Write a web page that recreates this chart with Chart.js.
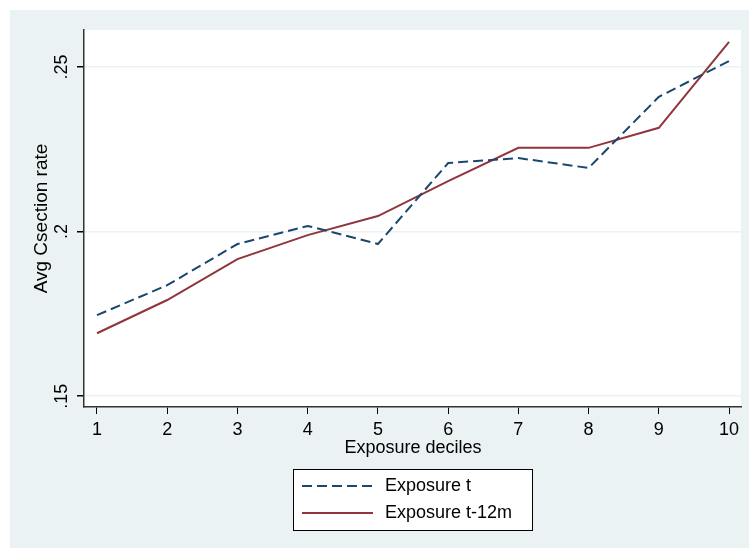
<!DOCTYPE html>
<html>
<head>
    <script src="https://cdn.jsdelivr.net/npm/chart.js@4.4.1/dist/chart.umd.min.js"></script>
    <style>
        body { margin: 0; background: white; }
        #wrap { width: 749px; height: 548px; }
    </style>
</head>
<body>
    <div id="wrap"><canvas id="csectionChart"></canvas></div>

    <script>
        // data
        var deciles = [1, 2, 3, 4, 5, 6, 7, 8, 9, 10];
        var exposureT = [0.1746, 0.1837, 0.1962, 0.2017, 0.1962, 0.2208, 0.2223, 0.2193, 0.2409, 0.2518];
        var exposureT12m = [0.1691, 0.1792, 0.1916, 0.1989, 0.2047, 0.2153, 0.2254, 0.2254, 0.2315, 0.2576];
        var yTicks = [0.15, 0.2, 0.25];
        var yTickLabels = ['.15', '.2', '.25'];

        var FONT = 'Arial, "Liberation Sans", sans-serif';
        var BG = '#eaf2f3';

        function points(vals) {
            return deciles.map(function (d, i) { return { x: d, y: vals[i] }; });
        }

        // background, titles, rotated y labels and the boxed legend
        var stataLook = {
            id: 'stataLook',
            beforeDraw: function (chart) {
                var ctx = chart.ctx;
                ctx.save();
                ctx.fillStyle = BG;
                ctx.fillRect(10, 10, chart.width - 10, chart.height - 10);
                var a = chart.chartArea;
                ctx.fillStyle = 'white';
                ctx.fillRect(a.left, a.top, a.right - a.left, a.bottom - a.top);
                ctx.restore();
            },
            afterDraw: function (chart) {
                var ctx = chart.ctx;
                var a = chart.chartArea;
                var ys = chart.scales.y;
                ctx.save();
                ctx.fillStyle = '#000';
                ctx.font = '18px ' + FONT;
                ctx.textAlign = 'center';
                ctx.textBaseline = 'middle';

                // y tick labels, rotated
                yTicks.forEach(function (v, i) {
                    ctx.save();
                    ctx.translate(62, ys.getPixelForValue(v));
                    ctx.rotate(-Math.PI / 2);
                    ctx.fillText(yTickLabels[i], 0, 0);
                    ctx.restore();
                });

                // y title
                ctx.save();
                ctx.font = '19px ' + FONT;
                ctx.translate(42, (a.top + a.bottom) / 2);
                ctx.rotate(-Math.PI / 2);
                ctx.fillText('Avg Csection rate', 0, 0);
                ctx.restore();

                // x title
                ctx.fillText('Exposure deciles', 413, 448);

                // legend
                var bx = 293, by = 469, bw = 239, bh = 61;
                ctx.fillStyle = 'white';
                ctx.fillRect(bx, by, bw, bh);
                ctx.strokeStyle = '#000';
                ctx.lineWidth = 1;
                ctx.strokeRect(bx + 0.5, by + 0.5, bw, bh);
                chart.data.datasets.forEach(function (ds, i) {
                    var ly = 486 + i * 27;
                    ctx.beginPath();
                    ctx.setLineDash(ds.borderDash || []);
                    ctx.strokeStyle = ds.borderColor;
                    ctx.lineWidth = ds.borderWidth;
                    ctx.moveTo(302, ly);
                    ctx.lineTo(373, ly);
                    ctx.stroke();
                    ctx.setLineDash([]);
                    ctx.fillStyle = '#000';
                    ctx.textAlign = 'left';
                    ctx.fillText(ds.label, 385, ly);
                });
                ctx.restore();
            }
        };

        var ctx = document.getElementById('csectionChart').getContext('2d');
        var chart = new Chart(ctx, {
            type: 'line',
            data: {
                datasets: [{
                    label: 'Exposure t',
                    data: points(exposureT),
                    borderColor: '#1a476f',
                    borderWidth: 2,
                    borderDash: [10, 5],
                    pointRadius: 0,
                    tension: 0
                }, {
                    label: 'Exposure t-12m',
                    data: points(exposureT12m),
                    borderColor: '#90353b',
                    borderWidth: 2,
                    pointRadius: 0,
                    tension: 0
                }]
            },
            options: {
                responsive: true,
                maintainAspectRatio: false,
                animation: false,
                layout: { padding: { left: 10, top: 30, right: 8, bottom: 0 } },
                plugins: {
                    legend: { display: false },
                    tooltip: { enabled: false }
                },
                scales: {
                    x: {
                        type: 'linear',
                        min: 0.815,
                        max: 10.17,
                        afterBuildTicks: function (scale) {
                            scale.ticks = deciles.map(function (d) { return { value: d }; });
                        },
                        afterFit: function (scale) { scale.height = 141; },
                        grid: {
                            drawOnChartArea: false,
                            tickLength: 7,
                            tickColor: '#000',
                            lineWidth: 1
                        },
                        border: { color: '#333', width: 1.5 },
                        ticks: {
                            font: { size: 18, family: FONT },
                            color: '#000',
                            padding: 5,
                            maxRotation: 0,
                            callback: function (v) { return String(v); }
                        }
                    },
                    y: {
                        type: 'linear',
                        min: 0.1467,
                        max: 0.2612,
                        afterBuildTicks: function (scale) {
                            scale.ticks = yTicks.map(function (v) { return { value: v }; });
                        },
                        afterFit: function (scale) { scale.width = 74; },
                        grid: {
                            color: BG,
                            lineWidth: 1.5,
                            tickLength: 7,
                            tickColor: '#000'
                        },
                        border: { color: '#333', width: 1.5 },
                        ticks: { display: false }
                    }
                }
            },
            plugins: [stataLook]
        });
    </script>
</body>
</html>
